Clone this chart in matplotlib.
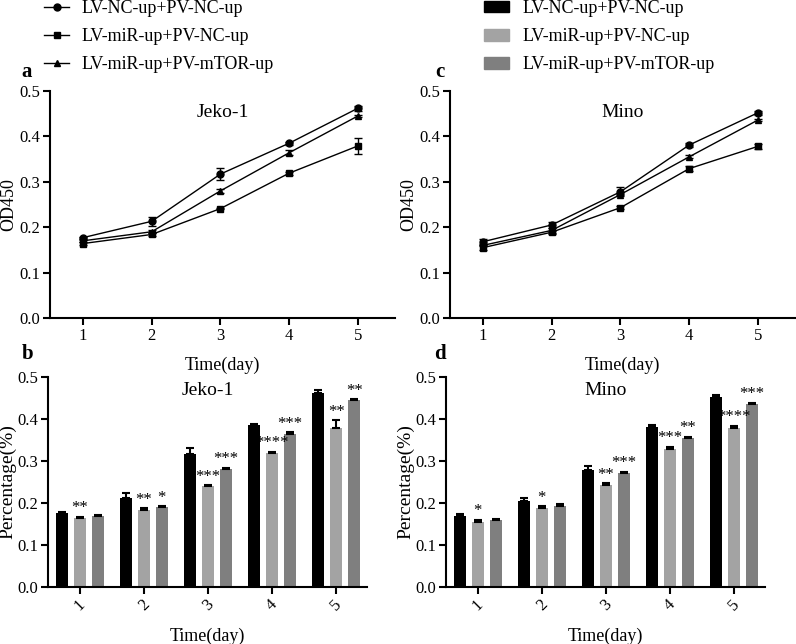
import numpy as np
import matplotlib

matplotlib.use("Agg")
import matplotlib.pyplot as plt
from matplotlib.lines import Line2D
from matplotlib.patches import Patch

plt.rcParams["font.family"] = ["Liberation Serif", "DejaVu Serif"]

days = [1, 2, 3, 4, 5]
groups = ["LV-NC-up+PV-NC-up", "LV-miR-up+PV-NC-up", "LV-miR-up+PV-mTOR-up"]

# Jeko-1
jeko_nc = [0.177, 0.213, 0.317, 0.385, 0.462]
jeko_mir = [0.164, 0.184, 0.241, 0.319, 0.379]
jeko_mtor = [0.170, 0.190, 0.280, 0.364, 0.445]
jeko_nc_err = [0.002, 0.010, 0.013, 0.003, 0.006]
jeko_mir_err = [0.003, 0.003, 0.002, 0.003, 0.018]
jeko_mtor_err = [0.002, 0.003, 0.004, 0.005, 0.002]
jeko_mir_sig = ["**", "**", "***", "****", "**"]
jeko_mtor_sig = ["", "*", "***", "***", "**"]

# Mino
mino_nc = [0.168, 0.205, 0.278, 0.381, 0.452]
mino_mir = [0.155, 0.189, 0.243, 0.329, 0.378]
mino_mtor = [0.160, 0.193, 0.272, 0.355, 0.436]
mino_nc_err = [0.007, 0.007, 0.010, 0.004, 0.004]
mino_mir_err = [0.005, 0.003, 0.004, 0.005, 0.006]
mino_mtor_err = [0.002, 0.005, 0.002, 0.003, 0.003]
mino_mir_sig = ["*", "*", "**", "***", "****"]
mino_mtor_sig = ["", "", "***", "**", "***"]

MARKERS = ["o", "s", "^"]
BAR_COLORS = ["#000000", "#a3a3a3", "#7f7f7f"]
W, H = 796, 644


def style_axes(ax):
    for s in ("top", "right"):
        ax.spines[s].set_visible(False)
    for s in ("left", "bottom"):
        ax.spines[s].set_linewidth(1.5)
    ax.tick_params(width=1.5, length=5, labelsize=12, pad=2)
    ax.set_ylim(0, 0.5)
    ax.set_yticks([0, 0.1, 0.2, 0.3, 0.4, 0.5])
    ax.set_yticklabels(["0.0", "0.1", "0.2", "0.3", "0.4", "0.5"])


def line_panel(ax, title, series, errs):
    for vals, err, m in zip(series, errs, MARKERS):
        ax.errorbar(days, vals, yerr=err, color="black", marker=m, ms=5,
                    lw=1.0, capsize=3, elinewidth=1.0)
    style_axes(ax)
    ax.set_xlim(0.52, 5.54)
    ax.set_xticks(days)
    ax.set_ylabel("OD450", fontsize=13)
    ax.yaxis.set_label_coords(-0.096, 0.5)
    ax.set_xlabel("Time(day)", fontsize=13, labelpad=9)
    ax.set_title(title, fontsize=14, y=0.85)


def bar_panel(ax, title, series, errs, sigs):
    x = np.array(days)
    bw = 0.19
    offs = [-0.28, 0, 0.28]
    for i, (vals, err, c) in enumerate(zip(series, errs, BAR_COLORS)):
        ax.bar(x + offs[i], vals, width=bw, color=c,
               yerr=[np.zeros(len(err)), err], capsize=3,
               error_kw=dict(elinewidth=1.5, capthick=1.5, ecolor="black"))
    for i, sig in zip([1, 2], sigs):
        for j, s in enumerate(sig):
            if s:
                top = series[i][j] + errs[i][j]
                ax.text(x[j] + offs[i], top + 0.001, s, ha="center", va="bottom",
                        fontsize=12)
    style_axes(ax)
    ax.set_xlim(0.505, 5.48)
    ax.set_xticks(days)
    ax.set_xticklabels([str(d) for d in days], rotation=45)
    ax.set_ylabel("Percentage(%)", fontsize=14)
    ax.yaxis.set_label_coords(-0.1, 0.5)
    ax.set_xlabel("Time(day)", fontsize=13, labelpad=10)
    ax.set_title(title, fontsize=14, y=0.875)


fig = plt.figure(figsize=(W / 100, H / 100), dpi=100)


def add_ax(left, right, bottom, top):
    return fig.add_axes([left / W, 1 - bottom / H, (right - left) / W, (bottom - top) / H])


ax_a = add_ax(50, 395, 318, 91)
ax_c = add_ax(450, 795, 318, 91)
ax_b = add_ax(48, 367, 587, 377)
ax_d = add_ax(446, 765, 587, 377)

line_panel(ax_a, "Jeko-1", [jeko_nc, jeko_mir, jeko_mtor],
           [jeko_nc_err, jeko_mir_err, jeko_mtor_err])
line_panel(ax_c, "Mino", [mino_nc, mino_mir, mino_mtor],
           [mino_nc_err, mino_mir_err, mino_mtor_err])
bar_panel(ax_b, "Jeko-1", [jeko_nc, jeko_mir, jeko_mtor],
          [jeko_nc_err, jeko_mir_err, jeko_mtor_err], [jeko_mir_sig, jeko_mtor_sig])
bar_panel(ax_d, "Mino", [mino_nc, mino_mir, mino_mtor],
          [mino_nc_err, mino_mir_err, mino_mtor_err], [mino_mir_sig, mino_mtor_sig])

for lab, px, py in [("a", 27, 72), ("c", 440, 72), ("b", 28, 354), ("d", 440, 354)]:
    fig.text(px / W, 1 - py / H, lab, fontsize=15, fontweight="bold",
             ha="center", va="center")

line_handles = [Line2D([0], [0], color="black", marker=m, ms=5, lw=1.0) for m in MARKERS]
fig.legend(line_handles, groups, loc="upper left", bbox_to_anchor=(44 / W, 1.0),
           frameon=False, fontsize=13, handlelength=1.4, handletextpad=0.7,
           labelspacing=0.62, borderpad=0, borderaxespad=0)
bar_handles = [Patch(color=c) for c in BAR_COLORS]
fig.legend(bar_handles, groups, loc="upper left", bbox_to_anchor=(484 / W, 1.0),
           frameon=False, fontsize=13, handlelength=1.4, handleheight=0.6,
           handletextpad=0.75, labelspacing=0.62, borderpad=0, borderaxespad=0)

fig.savefig("out.png", dpi=100)
